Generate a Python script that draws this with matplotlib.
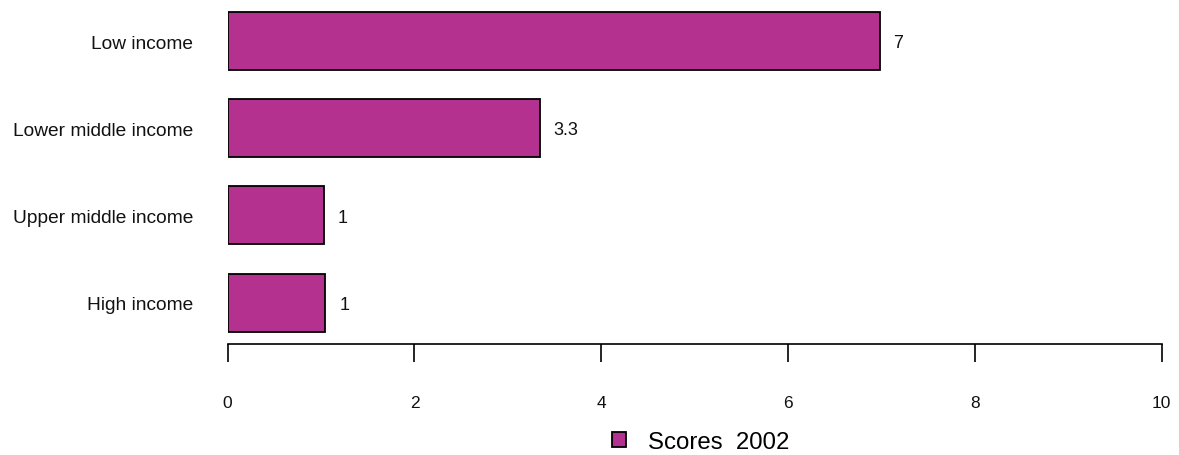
import numpy as np
import matplotlib.pyplot as plt
from matplotlib.patches import Patch

plt.rcParams['font.family'] = ['Liberation Sans', 'DejaVu Sans']

# data
categories = ['Low income', 'Lower middle income', 'Upper middle income', 'High income']
scores = [6.98, 3.34, 1.03, 1.045]
labels = ['7', '3.3', '1', '1']
bar_color = '#B5318F'

fig = plt.figure(figsize=(11.79, 4.56), dpi=100)
ax = fig.add_axes([0.1931, 0.2434, 0.9853 - 0.1931, 1 - 0.2434])

y = np.arange(len(categories))
ax.barh(y, scores, height=0.665, color=bar_color, edgecolor='black', linewidth=1.3)

for yi, v, lab in zip(y, scores, labels):
    ax.text(v + 0.15, yi + 0.02, lab, va='center', ha='left', fontsize=13, color='#111111')

ax.set_xlim(0, 10)
ax.set_ylim(3.476, -0.482)
ax.set_yticks(y)
ax.set_yticklabels(categories, fontsize=13.8, color='#111111')
ax.set_xticks(np.arange(0, 11, 2))
ax.tick_params(axis='x', length=13, width=1.2, pad=24, labelsize=12.5, labelcolor='#111111')
ax.tick_params(axis='y', length=0, pad=25)

for s in ['top', 'right', 'left']:
    ax.spines[s].set_visible(False)
ax.spines['bottom'].set_bounds(0, 10)
ax.spines['bottom'].set_linewidth(1.2)

fig.legend(handles=[Patch(facecolor=bar_color, edgecolor='black', linewidth=1.3, label='Scores  2002')],
           loc='center', bbox_to_anchor=(0.594, 0.029), frameon=False, fontsize=17.3,
           handlelength=0.6, handleheight=0.6, handletextpad=0.9)

plt.savefig('out.png', dpi=100)
